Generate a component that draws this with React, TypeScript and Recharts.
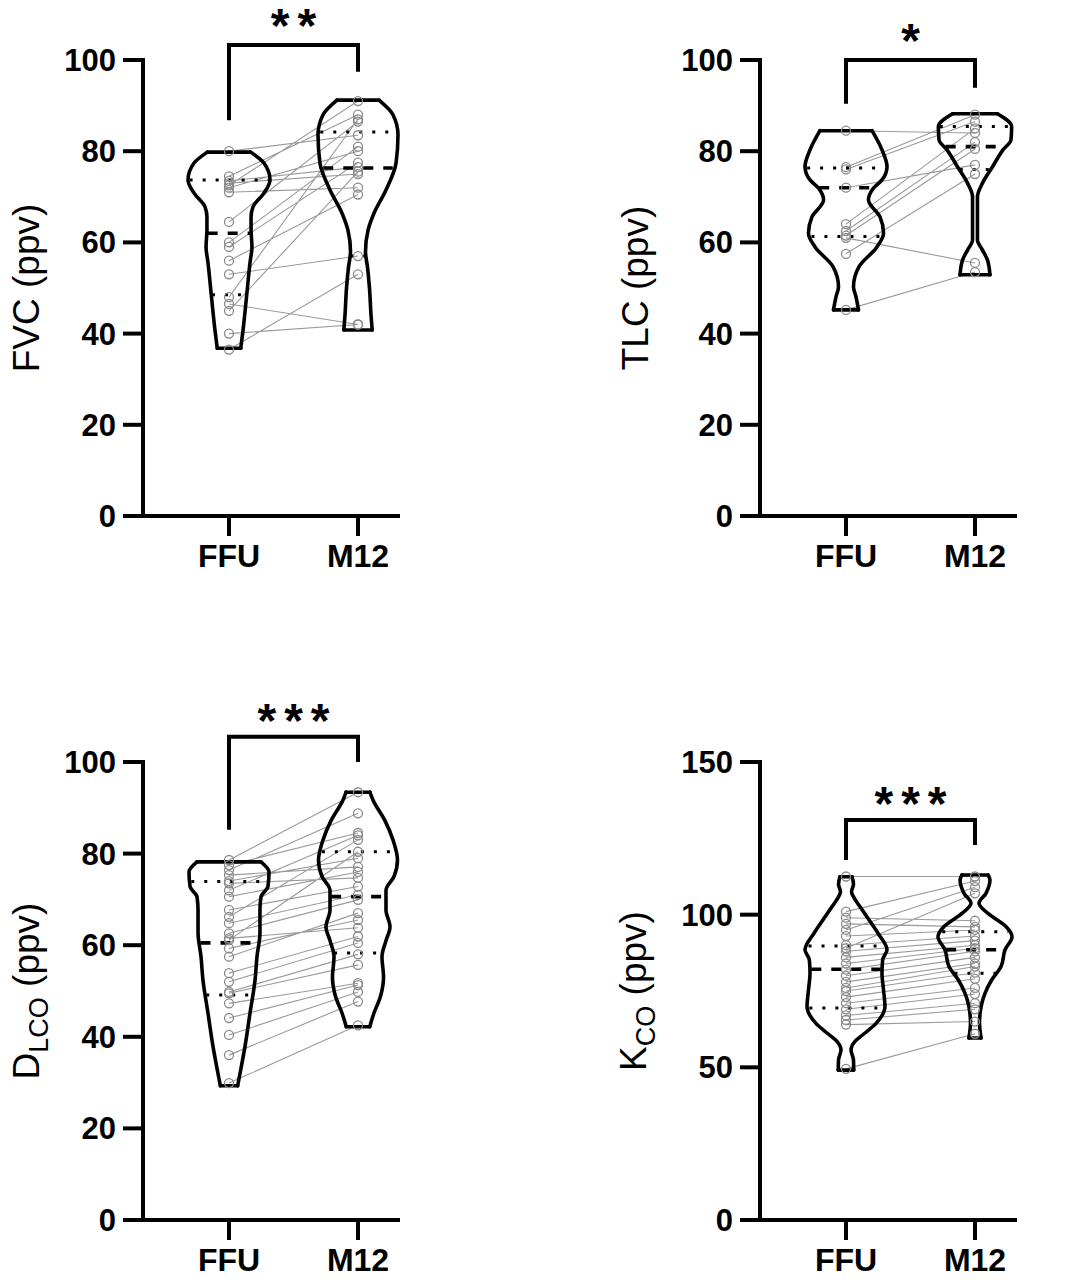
import React from 'react';
import { ComposedChart, Line, Scatter, XAxis, YAxis, ReferenceLine } from 'recharts';

const FONT = 'Arial, "Liberation Sans", Helvetica, sans-serif';
const CATEGORIES = ['FFU', 'M12'];

// ---------- FVC ----------
const FVC_FFU = [80, 74.5, 73.5, 73, 72.5, 72, 71, 64.5, 60, 59, 56, 53, 48, 46.5, 45, 40, 36.5];
const FVC_M12 = [83.5, 88, 76.5, 75, 91, 80, 72, 86.5, 81, 77.5, 70.5, 57, 87, 42, 75.5, 42, 53];
// violin density profile: [value, half-width in category units]
const FVC_VIOLIN_FFU = [[36.8, 0.091], [40.8, 0.109], [48.1, 0.136], [55.6, 0.163], [59, 0.178], [62.7, 0.171], [65.6, 0.171], [67.8, 0.186], [70.8, 0.271], [73.7, 0.318], [77.4, 0.271], [79.8, 0.168]];
const FVC_VIOLIN_M12 = [[40.8, 0.11], [44, 0.101], [50, 0.089], [54.5, 0.074], [58, 0.058], [62.7, 0.078], [66.4, 0.124], [71.5, 0.217], [77.4, 0.295], [83.6, 0.31], [88, 0.271], [91.2, 0.163]];
const FVC_QUART_FFU = [48.5, 62, 73.7]; // q1, median, q3
const FVC_QUART_M12 = [57, 76.3, 84.2];
const FVC_TICKS = [0, 20, 40, 60, 80, 100];
const FVC_BRACKET = [86.8, 103.3, 97.4]; // left end, top, right end
const FVC_SIG = '**';
const FVC_SIG_Y = 109.9;

// ---------- TLC ----------
const TLC_FFU = [84.5, 76.5, 76, 72, 64, 62.5, 61.5, 61, 57.5, 45.2];
const TLC_M12 = [84, 88, 86.5, 77, 85, 82, 80.5, 55.5, 75, 53.5];
const TLC_VIOLIN_FFU = [[45.2, 0.097], [48, 0.078], [50.3, 0.058], [54.7, 0.101], [59, 0.24], [62, 0.291], [65.6, 0.264], [69.3, 0.174], [71.9, 0.213], [73.7, 0.279], [76.6, 0.318], [80.3, 0.279], [84.5, 0.202]];
const TLC_VIOLIN_M12 = [[52.9, 0.116], [56.1, 0.097], [58.3, 0.058], [60.5, 0.019], [70, 0.019], [73, 0.058], [76.6, 0.136], [80.3, 0.217], [82.5, 0.279], [85.4, 0.284], [88.2, 0.174]];
const TLC_QUART_FFU = [61.3, 72, 76.3];
const TLC_QUART_M12 = [76, 81, 85.4];
const TLC_TICKS = [0, 20, 40, 60, 80, 100];
const TLC_BRACKET = [90.4, 100, 93.9];
const TLC_SIG = '*';
const TLC_SIG_Y = 106.6;

// ---------- DLCO ----------
const DLCO_FFU = [78.6, 77.5, 76.4, 75.3, 74, 73.5, 72, 70.6, 67.7, 66.2, 64.8, 62.6, 61.5, 61.1, 59.3, 57.5, 53.9, 52, 49.8, 49.5, 47.3, 44.1, 40.4, 36, 29.9];
const DLCO_M12 = [93.4, 84.5, 88.8, 77.1, 79, 74.7, 84, 76, 72.8, 83, 71, 69.9, 63.8, 80.4, 65.5, 67, 61.9, 60.5, 58, 55.7, 51.7, 51.3, 49.8, 47.7, 42.5];
const DLCO_VIOLIN_FFU = [[29.3, 0.067], [32.8, 0.091], [37.9, 0.124], [45.2, 0.163], [52.4, 0.202], [57.5, 0.217], [62.7, 0.24], [67.7, 0.24], [70.6, 0.248], [72.8, 0.302], [76, 0.31], [78.2, 0.248]];
const DLCO_VIOLIN_M12 = [[42.2, 0.091], [45.2, 0.124], [48.8, 0.174], [53, 0.198], [57.5, 0.186], [61, 0.217], [64, 0.248], [67.7, 0.217], [72, 0.217], [75, 0.279], [78.6, 0.306], [83, 0.271], [87.3, 0.207], [91.7, 0.116], [93.4, 0.093]];
const DLCO_QUART_FFU = [49.1, 60.5, 73.9];
const DLCO_QUART_M12 = [58.3, 70.6, 80.4];
const DLCO_TICKS = [0, 20, 40, 60, 80, 100];
const DLCO_BRACKET = [85.2, 105.5, 100];
const DLCO_SIG = '***';
const DLCO_SIG_Y = 111.4;

// ---------- KCO ----------
const KCO_FFU = [112.5, 101, 99, 97, 95, 93, 90, 89, 88, 86, 84, 82, 80, 78, 76, 75, 73, 71, 69, 67, 65.5, 64, 49.5];
const KCO_M12 = [112.5, 111, 98, 96, 109, 95, 93, 107, 91.5, 90, 89, 88, 86, 84, 83, 81, 79, 76, 74, 71, 69, 65, 61];
const KCO_VIOLIN_FFU = [[49.1, 0.06], [52.4, 0.058], [55.7, 0.039], [58.5, 0.07], [61, 0.14], [64.4, 0.233], [69.9, 0.302], [75.3, 0.291], [80.8, 0.279], [85.2, 0.284], [88.5, 0.318], [93.9, 0.248], [98.3, 0.178], [102.6, 0.109], [105, 0.07], [107.5, 0.043], [110, 0.058], [112.4, 0.047]];
const KCO_VIOLIN_M12 = [[59.6, 0.047], [64.5, 0.035], [69.9, 0.047], [74.3, 0.078], [78.6, 0.129], [83, 0.202], [88.5, 0.233], [92.8, 0.287], [96.1, 0.24], [100.4, 0.101], [103.7, 0.031], [107, 0.085], [111.4, 0.116], [113, 0.101]];
const KCO_QUART_FFU = [69.4, 82.1, 89.7];
const KCO_QUART_M12 = [80.8, 88.5, 94.4];
const KCO_TICKS = [0, 50, 100, 150];
const KCO_BRACKET = [117.9, 131, 122.8];
const KCO_SIG = '***';
const KCO_SIG_Y = 139.9;

type Prof = number[][];

const PANELS = [
  { key: 'fvc', axisX: 143, yw: 143, top: 0, y0: 516, tickTop: 60, tickMax: 100, yMax: 112, labelAbsX: 38.5,
    label: [{ t: 'FVC (ppv)' }], ffu: FVC_FFU, m12: FVC_M12, vf: FVC_VIOLIN_FFU, vm: FVC_VIOLIN_M12,
    qf: FVC_QUART_FFU, qm: FVC_QUART_M12, ticks: FVC_TICKS, bracket: FVC_BRACKET, sig: FVC_SIG, sigY: FVC_SIG_Y },
  { key: 'tlc', axisX: 760, yw: 175, top: 0, y0: 516, tickTop: 60, tickMax: 100, yMax: 112, labelAbsX: 648,
    label: [{ t: 'TLC (ppv)' }], ffu: TLC_FFU, m12: TLC_M12, vf: TLC_VIOLIN_FFU, vm: TLC_VIOLIN_M12,
    qf: TLC_QUART_FFU, qm: TLC_QUART_M12, ticks: TLC_TICKS, bracket: TLC_BRACKET, sig: TLC_SIG, sigY: TLC_SIG_Y },
  { key: 'dlco', axisX: 143, yw: 143, top: 680, y0: 1220, tickTop: 762, tickMax: 100, yMax: 112, labelAbsX: 38.5,
    label: [{ t: 'D' }, { t: 'LCO', sub: true }, { t: ' (ppv)' }], ffu: DLCO_FFU, m12: DLCO_M12, vf: DLCO_VIOLIN_FFU, vm: DLCO_VIOLIN_M12,
    qf: DLCO_QUART_FFU, qm: DLCO_QUART_M12, ticks: DLCO_TICKS, bracket: DLCO_BRACKET, sig: DLCO_SIG, sigY: DLCO_SIG_Y },
  { key: 'kco', axisX: 760, yw: 175, top: 680, y0: 1220, tickTop: 762, tickMax: 150, yMax: 168, labelAbsX: 646,
    label: [{ t: 'K' }, { t: 'CO', sub: true }, { t: ' (ppv)' }], ffu: KCO_FFU, m12: KCO_M12, vf: KCO_VIOLIN_FFU, vm: KCO_VIOLIN_M12,
    qf: KCO_QUART_FFU, qm: KCO_QUART_M12, ticks: KCO_TICKS, bracket: KCO_BRACKET, sig: KCO_SIG, sigY: KCO_SIG_Y },
];

const X_MIN = 1 - 86 / 129;
const X_MAX = X_MIN + 257 / 129;
const PLOT_W = 257;
const RIGHT_M = 20;

function hwAt(prof: Prof, v: number) {
  for (let i = 0; i < prof.length - 1; i++) {
    const [v0, w0] = prof[i];
    const [v1, w1] = prof[i + 1];
    if (v >= v0 && v <= v1) return w0 + ((w1 - w0) * (v - v0)) / (v1 - v0);
  }
  return v < prof[0][0] ? prof[0][1] : prof[prof.length - 1][1];
}

function violinLines(prof: Prof, c: number, quart: number[], id: string) {
  const left = prof.map(([v, w]) => ({ x: c - w, y: v }));
  const right = prof.map(([v, w]) => ({ x: c + w, y: v }));
  const first = prof[0];
  const last = prof[prof.length - 1];
  const top = [{ x: c - last[1], y: last[0] }, { x: c + last[1], y: last[0] }];
  const bottom = [{ x: c - first[1], y: first[0] }, { x: c + first[1], y: first[0] }];
  const common = { dataKey: 'y', dot: false, activeDot: false, isAnimationActive: false, stroke: '#000', strokeWidth: 3.6, strokeLinecap: 'round' as const, legendType: 'none' as const };
  const els = [
    <Line key={id + 'l'} data={left} type="monotoneY" {...common} />,
    <Line key={id + 'r'} data={right} type="monotoneY" {...common} />,
    <Line key={id + 't'} data={top} type="linear" {...common} />,
    <Line key={id + 'b'} data={bottom} type="linear" {...common} />,
  ];
  quart.forEach((q, i) => {
    const w = hwAt(prof, q) * 0.96;
    els.push(
      <Line key={id + 'q' + i} data={[{ x: c - w, y: q }, { x: c + w, y: q }]} type="linear" dataKey="y" dot={false} activeDot={false}
        isAnimationActive={false} stroke="#000" strokeWidth={i === 1 ? 3.6 : 3} strokeDasharray={i === 1 ? '10 10' : '3 10'} legendType="none" />
    );
  });
  return els;
}

function YLabel({ parts, x, cy }: { parts: { t: string; sub?: boolean }[]; x: number; cy: number }) {
  let shifted = false;
  return (
    <text transform={`translate(${x},${cy}) rotate(-90)`} x={0} y={0} textAnchor="middle" fontFamily={FONT} fontSize={37} fill="#000">
      {parts.map((p, i) => {
        let dy = 0;
        if (p.sub && !shifted) { dy = 9; shifted = true; }
        else if (!p.sub && shifted) { dy = -9; shifted = false; }
        return (
          <tspan key={i} dy={dy} fontSize={p.sub ? 27 : 37}>{p.t}</tspan>
        );
      })}
    </text>
  );
}

function Panel({ p }: { p: any }) {
  const chartLeft = p.axisX - p.yw;
  const rel0 = p.y0 - p.top;
  const ppu = (p.y0 - p.tickTop) / p.tickMax;
  const topMargin = rel0 - ppu * p.yMax;
  const H = rel0 + 70;
  const W = p.yw + PLOT_W + RIGHT_M;
  const labelCy = (rel0 + (p.tickTop - p.top)) / 2;
  const pairs = p.ffu.flatMap((a: number, i: number) => [{ x: 1, y: a }, { x: 2, y: p.m12[i] }, { x: 1.5, y: null }]);
  const pts = [...p.ffu.map((v: number) => ({ x: 1, y: v })), ...p.m12.map((v: number) => ({ x: 2, y: v }))];
  const bracket = [{ x: 1, y: p.bracket[0] }, { x: 1, y: p.bracket[1] }, { x: 2, y: p.bracket[1] }, { x: 2, y: p.bracket[2] }];
  const sig = [{ x: 1.5, y: p.sigY, label: p.sig }];
  const tickStyle = { fontSize: 31, fontWeight: 'bold', fill: '#000', fontFamily: FONT };
  return (
    <div style={{ position: 'absolute', left: chartLeft, top: p.top }}>
      <ComposedChart width={W} height={H} margin={{ top: topMargin, right: RIGHT_M, bottom: 0, left: 0 }}>
        <XAxis type="number" dataKey="x" domain={[X_MIN, X_MAX]} ticks={[1, 2]} interval={0}
          tickFormatter={(v: number) => CATEGORIES[Math.round(v) - 1]}
          axisLine={{ stroke: '#000', strokeWidth: 4 }} tickLine={{ stroke: '#000', strokeWidth: 4 }}
          tickSize={20} tickMargin={8} height={70} tick={{ ...tickStyle, fontSize: 32 }} />
        <YAxis type="number" domain={[0, p.yMax]} ticks={p.ticks} interval={0} width={p.yw}
          axisLine={false} tickLine={{ stroke: '#000', strokeWidth: 4 }} tickSize={20} tickMargin={7} tick={tickStyle}
          label={() => <YLabel parts={p.label} x={p.labelAbsX - chartLeft} cy={labelCy} />} />
        <ReferenceLine segment={[{ x: X_MIN, y: 0 }, { x: X_MIN, y: p.tickMax }]} stroke="#000" strokeWidth={4} strokeLinecap="square" ifOverflow="visible" />
        <Line data={pairs} dataKey="y" type="linear" stroke="#9a9a9a" strokeWidth={1.1} dot={false} activeDot={false} isAnimationActive={false} legendType="none" />
        <Scatter data={pts} dataKey="y" isAnimationActive={false} legendType="none"
          shape={(s: any) => <circle cx={s.cx} cy={s.cy} r={4.5} fill="none" stroke="#8a8a8a" strokeWidth={1.3} />} />
        {violinLines(p.vf, 1, p.qf, p.key + 'f')}
        {violinLines(p.vm, 2, p.qm, p.key + 'm')}
        <Line data={bracket} dataKey="y" type="linear" stroke="#000" strokeWidth={4} dot={false} activeDot={false} isAnimationActive={false} legendType="none" />
        <Scatter data={sig} dataKey="y" isAnimationActive={false} legendType="none"
          shape={(s: any) => (
            <text x={s.cx + 4} y={s.cy + 27} textAnchor="middle" fontFamily={FONT} fontWeight="bold" fontSize={48} letterSpacing={8} fill="#000">
              {s.payload.label}
            </text>
          )} />
      </ComposedChart>
    </div>
  );
}

export default function App() {
  return (
    <div style={{ position: 'absolute', left: 0, top: 0, width: 1073, height: 1280, background: '#fff' }}>
      {PANELS.map((p) => <Panel key={p.key} p={p} />)}
    </div>
  );
}
